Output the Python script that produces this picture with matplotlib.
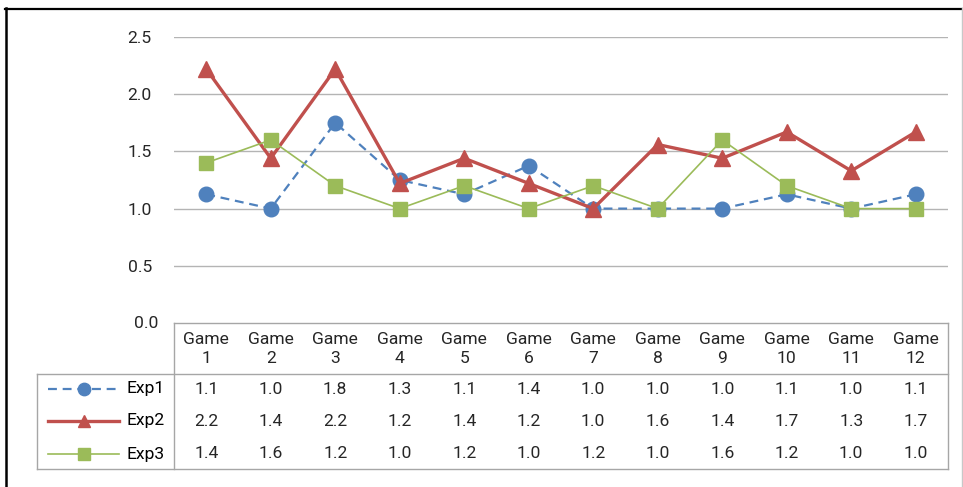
import matplotlib
matplotlib.use("Agg")
import matplotlib.pyplot as plt
from matplotlib.lines import Line2D
import matplotlib.transforms as mtransforms

# ---- data ----
games = ["Game\n1", "Game\n2", "Game\n3", "Game\n4", "Game\n5", "Game\n6",
         "Game\n7", "Game\n8", "Game\n9", "Game\n10", "Game\n11", "Game\n12"]
series_names = ["Exp1", "Exp2", "Exp3"]
exp1 = [1.125, 1.0, 1.75, 1.25, 1.125, 1.375, 1.0, 1.0, 1.0, 1.125, 1.0, 1.125]
exp2 = [2.22, 1.44, 2.22, 1.22, 1.44, 1.22, 1.0, 1.56, 1.44, 1.67, 1.33, 1.67]
exp3 = [1.4, 1.6, 1.2, 1.0, 1.2, 1.0, 1.2, 1.0, 1.6, 1.2, 1.0, 1.0]
exp1_labels = ["1.1", "1.0", "1.8", "1.3", "1.1", "1.4", "1.0", "1.0", "1.0", "1.1", "1.0", "1.1"]
exp2_labels = ["2.2", "1.4", "2.2", "1.2", "1.4", "1.2", "1.0", "1.6", "1.4", "1.7", "1.3", "1.7"]
exp3_labels = ["1.4", "1.6", "1.2", "1.0", "1.2", "1.0", "1.2", "1.0", "1.6", "1.2", "1.0", "1.0"]
yticks = [0.0, 0.5, 1.0, 1.5, 2.0, 2.5]
ytick_labels = ["0.0", "0.5", "1.0", "1.5", "2.0", "2.5"]

plt.rcParams['font.family'] = ['Roboto', 'DejaVu Sans']
FS = 12.6
TXT = "#262626"
GRID = "#b4b4b4"
BORDER = "#a6a6a6"

W, H = 963, 487
fig = plt.figure(figsize=(W / 100, H / 100), dpi=100)

# axes in pixel coords
L, R, T, B = 174, 948, 37, 323
ax = fig.add_axes([L / W, 1 - B / H, (R - L) / W, (B - T) / H])

x = list(range(len(games)))
styles = [
    dict(color="#4F81BD", lw=1.6, ls=(0, (4, 2.6)), marker="o", ms=10.5),
    dict(color="#C0504D", lw=2.4, ls="-", marker="^", ms=11),
    dict(color="#9BBB59", lw=1.2, ls="-", marker="s", ms=10.5),
]
for vals, st in zip([exp1, exp2, exp3], styles):
    ax.plot(x, vals, color=st["color"], lw=st["lw"], ls=st["ls"],
            marker=st["marker"], ms=st["ms"], mec=st["color"], mfc=st["color"],
            clip_on=False, zorder=3)

ax.set_xlim(-0.5, len(games) - 0.5)
ax.set_ylim(0, 2.5)
ax.set_yticks(yticks[1:])
ax.set_yticklabels(ytick_labels[1:])
ax.set_xticks([])
ax.tick_params(axis="y", length=0, pad=16, labelsize=FS, labelcolor=TXT)
for s in ax.spines.values():
    s.set_visible(False)
for yv in yticks[1:]:
    ax.axhline(yv, color=GRID, lw=1.0, zorder=1)
# 0.0 label placed at table top
ax.text(-0.5, yticks[0], ytick_labels[0], ha="right", va="center",
        fontsize=FS, color=TXT,
        transform=ax.transData + mtransforms.ScaledTranslation(-16 / 100, 0, fig.dpi_scale_trans))

# ---- data table (pixel-based layout in figure coords) ----
def fy(py):
    return 1 - py / H

def fx(px):
    return px / W

tb = fig.transFigure
blend = mtransforms.blended_transform_factory(ax.transData, fig.transFigure)

hdr_line = 374
tbl_bottom = 469
leg_left = 37
# borders
fig.add_artist(Line2D([fx(L), fx(R)], [fy(B), fy(B)], color=BORDER, lw=1.0, transform=tb))
fig.add_artist(Line2D([fx(leg_left), fx(R)], [fy(hdr_line), fy(hdr_line)], color=BORDER, lw=1.0, transform=tb))
fig.add_artist(Line2D([fx(leg_left), fx(R)], [fy(tbl_bottom), fy(tbl_bottom)], color=BORDER, lw=1.0, transform=tb))
fig.add_artist(Line2D([fx(L), fx(L)], [fy(B), fy(tbl_bottom)], color=BORDER, lw=1.0, transform=tb))
fig.add_artist(Line2D([fx(R), fx(R)], [fy(B), fy(tbl_bottom)], color=BORDER, lw=1.0, transform=tb))
fig.add_artist(Line2D([fx(leg_left), fx(leg_left)], [fy(hdr_line), fy(tbl_bottom)], color=BORDER, lw=1.0, transform=tb))

# header
for i, g in enumerate(games):
    fig.text(i, fy(349), g, transform=blend, ha="center", va="center",
             fontsize=FS, color=TXT, linespacing=1.3)

row_y = [389, 421, 454]
for labels, py in zip([exp1_labels, exp2_labels, exp3_labels], row_y):
    for i, lab in enumerate(labels):
        fig.text(i, fy(py), lab, transform=blend, ha="center", va="center",
                 fontsize=FS, color=TXT)

# legend keys
for name, st, py in zip(series_names, styles, row_y):
    fig.add_artist(Line2D([fx(48), fx(119)], [fy(py), fy(py)], color=st["color"],
                          lw=st["lw"], ls=st["ls"], transform=tb))
    fig.add_artist(Line2D([fx(83.5)], [fy(py)], color=st["color"], marker=st["marker"],
                          ms=st["ms"] * 0.85, mec=st["color"], mfc=st["color"], transform=tb, ls="none"))
    fig.text(fx(126), fy(py), name, ha="left", va="center", fontsize=FS, color="black")

# outer chart border
fig.add_artist(Line2D([fx(5), fx(963)], [fy(8.5), fy(8.5)], color="black", lw=1.6, transform=tb))
fig.add_artist(Line2D([fx(5.5), fx(5.5)], [fy(8), fy(487)], color="black", lw=1.8, transform=tb))
fig.add_artist(Line2D([fx(962), fx(962)], [fy(8), fy(487)], color="#c8c8c8", lw=1.0, transform=tb))

fig.savefig("out.png", dpi=100)
